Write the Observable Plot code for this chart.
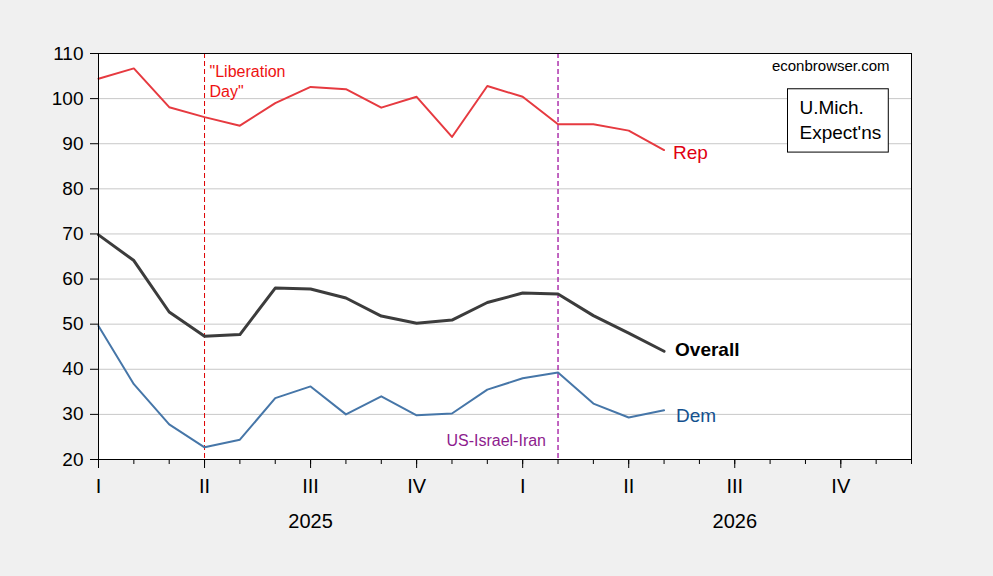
<!DOCTYPE html>
<html><head><meta charset="utf-8">
<script src="https://cdn.jsdelivr.net/npm/d3@7"></script>
<script src="https://cdn.jsdelivr.net/npm/@observablehq/plot@0.6"></script>
<style>html,body{margin:0;padding:0;background:#f0f0f0;overflow:hidden}#chart svg{display:block}</style>
</head><body><div id="chart"></div>
<script>
// ---- data ----
const months = ["2025-01","2025-02","2025-03","2025-04","2025-05","2025-06","2025-07","2025-08","2025-09","2025-10","2025-11","2025-12","2026-01","2026-02","2026-03","2026-04","2026-05"];
const rep     = [104.4,106.7,98.1,95.9,94.0,99.0,102.6,102.1,98.0,100.4,91.5,102.8,100.4,94.3,94.3,92.9,88.6];
const overall = [69.8,64.1,52.7,47.3,47.7,58.0,57.8,55.8,51.8,50.2,50.9,54.8,56.9,56.7,51.9,48.0,44.0];
const dem     = [49.6,36.7,27.8,22.7,24.4,33.6,36.2,30.0,34.0,29.8,30.2,35.5,38.0,39.3,32.4,29.3,30.9];
const axisStart = "2025-01";
const axisEnd = "2026-12";
const yTicks = [20,30,40,50,60,70,80,90,100,110];
const gridTicks = [30,40,50,60,70,80,90,100];
const quarterLabels = ["I","II","III","IV","I","II","III","IV"];
const yearLabels = ["2025","2026"];
const events = [
  {month: "2025-04", label: "\"Liberation\nDay\""},
  {month: "2026-02", label: "US-Israel-Iran"}
];
const seriesNames = ["Rep","Overall","Dem"];
const sourceText = "econbrowser.com";
const legendText = "U.Mich.\nExpect'ns";

// ---- helpers ----
const baseYear = +axisStart.slice(0,4);
const idx = m => { const [y, mo] = m.split("-").map(Number); return (y - baseYear) * 12 + (mo - 1); };
const lastIdx = idx(axisEnd);
const rows = months.map((m, i) => ({x: idx(m), rep: rep[i], overall: overall[i], dem: dem[i]}));
const last = rows[rows.length - 1];
const endLabels = [
  {name: seriesNames[0], x: last.x, y: last.rep},
  {name: seriesNames[1], x: last.x, y: last.overall},
  {name: seriesNames[2], x: last.x, y: last.dem}
];
const ev = events.map(e => ({...e, x: idx(e.month)}));
const font = "'Liberation Sans', Arial, sans-serif";

const chart = Plot.plot({
  width: 993, height: 576,
  marginLeft: 98, marginRight: 82, marginTop: 53, marginBottom: 117,
  style: {background: "#f0f0f0", fontFamily: font, fontSize: "19px", color: "black", overflow: "visible"},
  x: {domain: [0, lastIdx], label: null},
  y: {domain: [20, 110], label: null},
  marks: [
    Plot.frame({fill: "white", stroke: null}),
    Plot.gridY(gridTicks, {stroke: "#c8c8c8", strokeOpacity: 1, strokeWidth: 1}),
    Plot.ruleX([ev[0]], {x: "x", stroke: "#dd0000", strokeWidth: 1, strokeDasharray: "5,3"}),
    Plot.ruleX([ev[1]], {x: "x", stroke: "#990099", strokeWidth: 1.2, strokeDasharray: "5,3"}),
    Plot.line(rows, {x: "x", y: "rep", stroke: "#e63a40", strokeWidth: 2}),
    Plot.line(rows, {x: "x", y: "dem", stroke: "#4676a8", strokeWidth: 2}),
    Plot.line(rows, {x: "x", y: "overall", stroke: "#3c3c3c", strokeWidth: 3}),
    Plot.text([endLabels[0]], {x: "x", y: "y", text: "name", textAnchor: "start", dx: 9, dy: 2.5, fill: "#e00012", fontSize: 19}),
    Plot.text([endLabels[1]], {x: "x", y: "y", text: "name", textAnchor: "start", dx: 11, dy: -1, fill: "black", fontSize: 19, fontWeight: "bold"}),
    Plot.text([endLabels[2]], {x: "x", y: "y", text: "name", textAnchor: "start", dx: 12, dy: 5.5, fill: "#14508e", fontSize: 19}),
    Plot.text([ev[0]], {x: "x", text: "label", frameAnchor: "top", lineAnchor: "top", textAnchor: "start", dx: 5, dy: 9, lineHeight: 1.25, fill: "#ee1111", fontSize: 16}),
    Plot.text([ev[1]], {x: "x", text: "label", frameAnchor: "bottom", lineAnchor: "bottom", textAnchor: "end", dx: -12, dy: -14, fill: "#8e1c8e", fontSize: 16}),
    Plot.text([sourceText], {text: d => d, frameAnchor: "top-right", lineAnchor: "top", textAnchor: "end", dx: -22, dy: 7, fill: "black", fontSize: 15}),
    Plot.text([legendText], {text: d => d, frameAnchor: "top-right", lineAnchor: "top", textAnchor: "start", dx: -112, dy: 43.5, lineHeight: 1.28, fill: "black", fontSize: 19, className: "legend-box"}),
    Plot.axisY({ticks: yTicks, tickSize: 8, tickPadding: 7, fontSize: 19, label: null, tickFormat: d => String(d)}),
    Plot.axisX({ticks: d3.range(0, lastIdx + 1), tickSize: 5, label: null, tickFormat: () => ""}),
    Plot.axisX({ticks: d3.range(0, lastIdx + 1, 3), tickSize: 9, tickPadding: 10, fontSize: 20, label: null, tickFormat: i => quarterLabels[i / 3]}),
    Plot.axisX({ticks: [6, 18], tickSize: 0, tickPadding: 54.5, fontSize: 20, label: null, tickFormat: i => yearLabels[Math.floor(i / 12)]}),
    Plot.frame({stroke: "black", strokeWidth: 1})
  ]
});
document.getElementById("chart").appendChild(chart);

// box around the legend text (measured from the rendered text)
const lgGroup = chart.querySelector("g.legend-box") || (chart.querySelector(".legend-box") && chart.querySelector(".legend-box").closest("g"));
const lgText = chart.querySelector(".legend-box text") || chart.querySelector("text.legend-box");
if (lgText) {
  const sb = chart.getBoundingClientRect();
  const b = lgText.getBoundingClientRect();
  const r = document.createElementNS("http://www.w3.org/2000/svg", "rect");
  r.setAttribute("x", b.left - sb.left - 12);
  r.setAttribute("y", b.top - sb.top - 8.5);
  r.setAttribute("width", b.width + 19);
  r.setAttribute("height", b.height + 18);
  r.setAttribute("fill", "white");
  r.setAttribute("stroke", "black");
  r.setAttribute("stroke-width", 1);
  const anchor = lgGroup && lgGroup.parentNode === chart ? lgGroup : null;
  chart.insertBefore(r, anchor);
}
</script>
</body></html>
